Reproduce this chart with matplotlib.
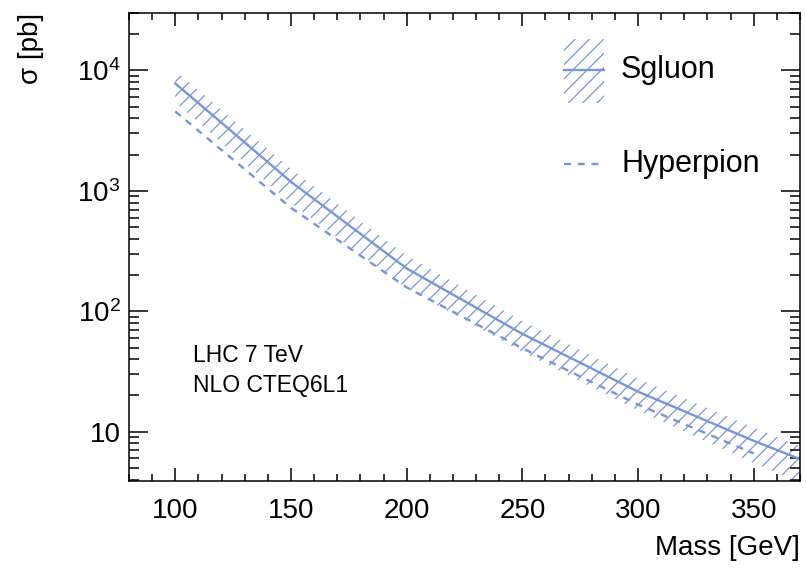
import math

import matplotlib

matplotlib.use("Agg")

import matplotlib.pyplot as plt
from matplotlib.backend_bases import GraphicsContextBase
from matplotlib.lines import Line2D
from matplotlib.patches import Rectangle
from matplotlib.ticker import FuncFormatter, LogLocator, MultipleLocator, NullFormatter


# mass points in GeV
MASS = [100, 150, 200, 250, 300, 350, 400]

# sgluon pair cross section (pb): central value and the band edges
SGLUON_XSEC = [7800, 1190, 227, 65, 21.5, 8.4, 3.5]
SGLUON_UP = [10000, 1520, 290, 83, 27.5, 10.8, 4.5]
SGLUON_DOWN = [5450, 790, 155, 46, 15.0, 5.5, 2.2]

# hyperpion only goes up to 350 GeV
HYPERPION_MASS = [100, 150, 200, 250, 300, 350]
HYPERPION_XSEC = [4570, 723, 158, 49.3, 16.8, 6.6]

SERIES_LABELS = ["Sgluon", "Hyperpion"]
INFO_LINES = ["LHC 7 TeV", "NLO CTEQ6L1"]

X_LABEL = "Mass [GeV]"
Y_LABEL = "σ [pb]"

LINE_COLOR = "#7896d6"
FONT = "Liberation Sans"
HATCH = "/"
# ROOT 3004 spacing; has to be even or the hatch tiles don't line up
HATCH_DENSITY = 14
DASHES = (3, 2.8)

FIG_W, FIG_H = 806, 569


def px(x, y):
    """Pixel position (from top-left) -> figure fraction."""
    return x / FIG_W, 1 - y / FIG_H


def setup_style():
    """ROOT-like look: Arial-ish font, thin hatch lines, regular math text."""
    plt.rcParams["font.family"] = [FONT, "DejaVu Sans"]
    plt.rcParams["mathtext.fontset"] = "custom"
    plt.rcParams["mathtext.rm"] = FONT
    plt.rcParams["mathtext.it"] = FONT
    plt.rcParams["mathtext.default"] = "regular"
    plt.rcParams["hatch.linewidth"] = 0.9
    plt.rcParams["axes.linewidth"] = 1.1

    # matplotlib has no public knob for hatch spacing, so change the default density
    original_hatch_path = GraphicsContextBase.get_hatch_path

    def hatch_path(self, density=HATCH_DENSITY):
        return original_hatch_path(self, density)

    GraphicsContextBase.get_hatch_path = hatch_path


def log_label(value, _pos):
    # 10 is written plainly, the other decades as powers of ten
    if value <= 0:
        return ""
    exponent = round(math.log10(value))
    if exponent == 1:
        return "10"
    return f"$10^{{{exponent}}}$"


def draw_legend(fig):
    """ROOT-style legend: tall hatched box with the line through it."""
    x0, y_top = px(564, 39)
    x1, y_bottom = px(604, 103)
    box = Rectangle(
        (x0, y_bottom),
        x1 - x0,
        y_top - y_bottom,
        transform=fig.transFigure,
        facecolor="none",
        edgecolor=LINE_COLOR,
        hatch=HATCH,
        linewidth=0,
    )
    fig.patches.append(box)

    _, y_sgluon = px(0, 70)
    _, y_hyper = px(0, 164)
    fig.add_artist(Line2D([x0, x1], [y_sgluon, y_sgluon], transform=fig.transFigure,
                          color=LINE_COLOR, linewidth=1.7))
    fig.add_artist(Line2D([x0, x1], [y_hyper, y_hyper], transform=fig.transFigure,
                          color=LINE_COLOR, linewidth=1.7, dashes=DASHES))

    text_x, _ = px(621, 0)
    fig.text(text_x, y_sgluon, SERIES_LABELS[0], ha="left", va="center", fontsize=22)
    fig.text(text_x, y_hyper, SERIES_LABELS[1], ha="left", va="center", fontsize=22)


def main():
    setup_style()

    fig = plt.figure(figsize=(FIG_W / 100, FIG_H / 100), dpi=100)
    ax = fig.add_axes([0.160, 0.1547, 0.8326, 0.8225])

    # hatched uncertainty band + central sgluon line
    ax.fill_between(
        MASS,
        SGLUON_DOWN,
        SGLUON_UP,
        facecolor="none",
        edgecolor=LINE_COLOR,
        hatch=HATCH,
        linewidth=0,
    )
    ax.plot(MASS, SGLUON_XSEC, color=LINE_COLOR, linewidth=1.7)

    # hyperpion dashed line
    ax.plot(HYPERPION_MASS, HYPERPION_XSEC, color=LINE_COLOR, linewidth=1.7, dashes=DASHES)

    ax.set_yscale("log")
    ax.set_xlim(80, 370)
    ax.set_ylim(3.9, 3.0e4)

    ax.xaxis.set_major_locator(MultipleLocator(50))
    ax.xaxis.set_minor_locator(MultipleLocator(10))
    ax.yaxis.set_major_locator(LogLocator(base=10))
    ax.yaxis.set_minor_locator(LogLocator(base=10, subs=range(2, 10)))
    ax.yaxis.set_major_formatter(FuncFormatter(log_label))
    ax.yaxis.set_minor_formatter(NullFormatter())

    ax.tick_params(axis="both", which="both", direction="in", top=True, right=True, width=1.1)
    ax.tick_params(axis="x", which="major", length=9.4, pad=12, labelsize=20)
    ax.tick_params(axis="x", which="minor", length=4.7)
    ax.tick_params(axis="y", which="major", length=13.7, pad=6, labelsize=20)
    ax.tick_params(axis="y", which="minor", length=7)

    # axis titles sit at the ends of the axes, as in ROOT
    fig.text(*px(800, 548), X_LABEL, ha="right", va="center", fontsize=20)
    fig.text(*px(31, 13), Y_LABEL, rotation=90, ha="center", va="top", fontsize=20)

    # info text in the lower left
    ax.text(0.0954, 0.269, INFO_LINES[0], transform=ax.transAxes, ha="left", va="center", fontsize=16.5)
    ax.text(0.0954, 0.205, INFO_LINES[1], transform=ax.transAxes, ha="left", va="center", fontsize=16.5)

    draw_legend(fig)

    fig.savefig("out.png", dpi=100)
    plt.close(fig)


if __name__ == "__main__":
    main()
